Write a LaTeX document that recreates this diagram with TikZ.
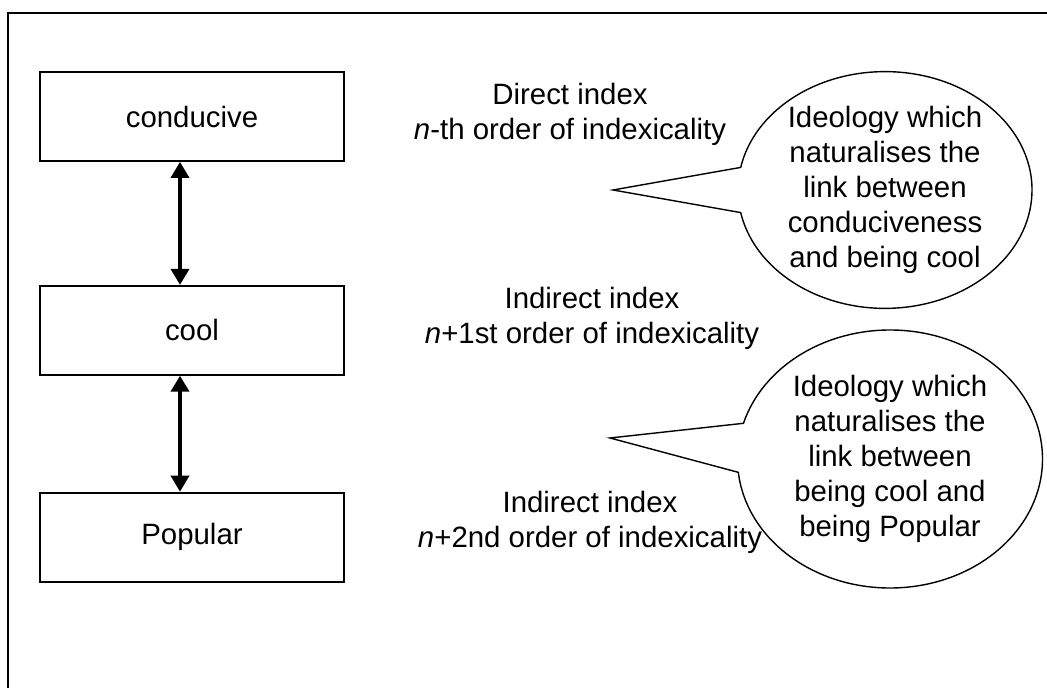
\documentclass[tikz,border=0pt]{standalone}
\usepackage{fontspec}
\setmainfont{Liberation Sans}
\usetikzlibrary{positioning,shapes.callouts,arrows.meta}

\tikzset{
	every node/.style={font=\fontsize{14.7}{17.5}\selectfont},
	word/.style={draw, line width=0.9pt, minimum width=152pt, minimum height=44.5pt},
	link/.style={{Triangle[length=8pt,width=9pt]}-{Triangle[length=8pt,width=9pt]}, line width=1.8pt},
	bubble/.style={ellipse callout, draw, line width=0.7pt, inner sep=0pt, align=center, callout pointer arc=22}
}

\begin{document}
\begin{tikzpicture}[x=0.5pt,y=-0.5pt]
	\useasboundingbox (0,0) rectangle (1047,688);
	\draw[line width=0.9pt] (8,13) rectangle (1060,700);
	
	\node[word] (conducive) at (192,116.5) {conducive};
	\node[word, below=61.5pt of conducive] (cool) {cool};
	\node[word, below=58pt of cool] (popular) {Popular};
	
	\draw[link] ([xshift=-6pt]conducive.south) -- ([xshift=-6pt]cool.north);
	\draw[link] ([xshift=-6pt]cool.south) -- ([xshift=-6pt]popular.north);
	
	\node[align=center] (direct) at (570,114) {Direct index\\\textit{n}-th order of indexicality};
	\node[align=center] (indirect1) at (592,318) {Indirect index\\\textit{n}+1st order of indexicality};
	\node[align=center] (indirect2) at (590,522) {Indirect index\\\textit{n}+2nd order of indexicality};
	
	\coordinate (tip1) at (613,190);
	\coordinate (tip2) at (610,438);
	\node[bubble, minimum width=147pt, minimum height=118pt, callout absolute pointer={(tip1)}] (ideology1) at (885,190)
		{Ideology which\\naturalises the\\link between\\conduciveness\\and being cool};
	\node[bubble, minimum width=152.5pt, minimum height=129pt, callout absolute pointer={(tip2)}] (ideology2) at (890,459)
		{Ideology which\\naturalises the\\link between\\being cool and\\being Popular};
	
\end{tikzpicture}
\end{document}
